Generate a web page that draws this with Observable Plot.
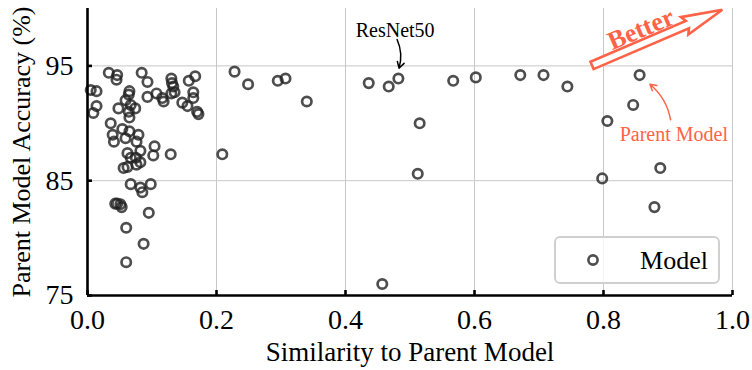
<!DOCTYPE html>
<html><head><meta charset="utf-8">
<script src="https://cdn.jsdelivr.net/npm/d3@7"></script>
<script src="https://cdn.jsdelivr.net/npm/@observablehq/plot@0.6"></script>
<style>body{margin:0;background:#fff}</style>
</head><body><div id="chart"></div>
<script>
// ---- data ----
const similarity = [
  0.467,0.482,0.567,0.602,0.671,0.707,0.744,0.856,0.846,0.806,0.515,0.512,0.798,0.888,0.879,0.457,0.436,
  0.228,0.249,0.295,0.307,0.340,0.209,
  0.033,0.046,0.045,0.084,0.093,0.130,0.131,0.133,0.157,0.167,
  0.005,0.014,0.065,0.064,0.059,0.093,0.107,0.116,0.118,0.130,0.135,0.164,0.164,0.147,0.155,0.170,0.172,
  0.014,0.009,0.048,0.067,0.074,0.064,0.065,
  0.036,0.039,0.041,0.054,0.065,0.059,0.079,0.076,0.082,0.104,0.102,0.129,0.062,0.067,0.075,0.082,0.076,0.056,0.062,
  0.067,0.082,0.085,0.098,0.043,0.046,0.051,0.053,0.095,0.060,0.087,0.060
];
const accuracy = [
  93.2,93.9,93.7,94.0,94.2,94.2,93.2,94.2,91.6,90.2,90.0,85.6,85.2,86.1,82.7,76.0,93.5,
  94.5,93.4,93.7,93.9,91.9,87.3,
  94.4,94.2,93.8,94.4,93.6,93.9,93.5,93.2,93.7,94.1,
  92.9,92.8,92.8,92.5,92.0,92.3,92.6,92.2,91.9,92.6,92.7,92.7,92.2,91.8,91.5,91.0,90.8,
  91.5,90.9,91.3,91.6,91.3,91.0,90.5,
  90.0,89.0,88.4,89.5,89.3,88.7,89.0,88.4,87.6,88.0,87.2,87.3,87.4,87.0,87.0,86.6,86.4,86.1,86.2,
  84.7,84.4,84.0,84.7,83.0,83.0,82.95,82.7,82.2,80.9,79.5,77.9
];
const xTicks = [0.0, 0.2, 0.4, 0.6, 0.8, 1.0];
const yTicks = [75, 85, 95];
const xLabel = "Similarity to Parent Model";
const yLabel = "Parent Model Accuracy (%)";
const legendLabel = "Model";
const resnetLabel = "ResNet50";
const parentLabel = "Parent Model";
const betterLabel = "Better";

const data = similarity.map((s, i) => ({s, a: accuracy[i]}));

// ---- layout ----
const W = 752, H = 370, mL = 87, mR = 20, mT = 8, mB = 75;
const fW = W - mL - mR, fH = H - mT - mB;
const serif = "'Liberation Serif','DejaVu Serif',serif";
const coral = "#ff6347";

const plot = Plot.plot({
  width: W, height: H,
  marginLeft: mL, marginRight: mR, marginTop: mT, marginBottom: mB,
  style: {fontFamily: serif, background: "#fff", color: "#000", overflow: "visible"},
  x: {domain: [0, 1], label: null},
  y: {domain: [75, 100], label: null},
  marks: [
    Plot.gridX(xTicks.slice(1), {stroke: "#c8c8c8", strokeOpacity: 1, strokeWidth: 1}),
    Plot.gridY(yTicks.slice(1), {stroke: "#c8c8c8", strokeOpacity: 1, strokeWidth: 1}),
    Plot.dot(data, {x: "s", y: "a", r: 4.7, stroke: "#222", strokeOpacity: 0.8, strokeWidth: 2.7, fill: "none"}),
    Plot.ruleX([0], {stroke: "#000", strokeWidth: 2.6}),
    Plot.ruleY([75], {stroke: "#000", strokeWidth: 2.6}),
    Plot.tickX(xTicks, {x: d => d, stroke: "#000", strokeWidth: 2.6, insetTop: fH - 5}),
    Plot.tickY(yTicks, {y: d => d, stroke: "#000", strokeWidth: 2.6, insetRight: fW - 5}),
    Plot.axisX(xTicks, {tickSize: 0, tickPadding: 14, tickFormat: d3.format(".1f"), fontSize: 28, label: null}),
    Plot.axisY(yTicks, {tickSize: 0, tickPadding: 14, fontSize: 28, label: null}),
    Plot.text([xLabel], {text: d => d, frameAnchor: "bottom", textAnchor: "middle", lineAnchor: "middle", dy: 57, fontSize: 27}),
    Plot.text([yLabel], {text: d => d, frameAnchor: "left", textAnchor: "middle", lineAnchor: "middle", rotate: -90, dx: -66, fontSize: 26}),
    // annotations
    Plot.text([resnetLabel], {text: d => d, x: 0.477, y: 98.1, fontSize: 20}),
    Plot.arrow([{x1: 0.480, y1: 97.3, x2: 0.483, y2: 94.8}], {x1: "x1", y1: "y1", x2: "x2", y2: "y2", bend: 20, stroke: "#000", strokeWidth: 1.5, headLength: 7}),
    Plot.text([parentLabel], {text: d => d, x: 0.909, y: 89.0, fontSize: 20, fill: coral}),
    Plot.arrow([{x1: 0.904, y1: 90.3, x2: 0.872, y2: 93.4}], {x1: "x1", y1: "y1", x2: "x2", y2: "y2", bend: -20, stroke: coral, strokeWidth: 1.5, headLength: 7}),
    Plot.text([betterLabel], {text: d => d, x: 0.858, y: 98.2, rotate: -23, fontSize: 26, fontWeight: "bold", fill: coral})
  ]
});

// ---- hollow "Better" arrow and legend, placed through the plot's scales ----
const sx = plot.scale("x"), sy = plot.scale("y");
const svg = d3.select(plot);
const tail = [sx.apply(0.783), sy.apply(95.0)];
const tip = [sx.apply(0.985), sy.apply(99.85)];
const dxA = tip[0] - tail[0], dyA = tip[1] - tail[1], L = Math.hypot(dxA, dyA);
const u = [dxA / L, dyA / L], n = [-u[1], u[0]];
const hw = 4, hh = 9.5, hl = 38;
const P = (t, w) => [tail[0] + u[0] * t + n[0] * w, tail[1] + u[1] * t + n[1] * w];
const poly = [P(0, -hw), P(L - hl, -hw), P(L - hl - 3, -hh), P(L, 0), P(L - hl - 3, hh), P(L - hl, hw), P(0, hw)];
svg.append("path").attr("d", "M" + poly.map(p => p.join(",")).join("L") + "Z")
  .attr("fill", "#fff").attr("stroke", coral).attr("stroke-width", 2.6).attr("stroke-linejoin", "miter");

// legend box in frame-relative position (lower right)
const lg = svg.append("g");
const bx = mL + fW - 177, by = mT + fH - 58, bw = 164, bh = 46;
lg.append("rect").attr("x", bx).attr("y", by).attr("width", bw).attr("height", bh).attr("rx", 5)
  .attr("fill", "#fff").attr("fill-opacity", 0.8).attr("stroke", "#d0d0d0").attr("stroke-width", 2);
lg.append("circle").attr("cx", bx + 38).attr("cy", by + bh / 2).attr("r", 4.6)
  .attr("fill", "none").attr("stroke", "#222").attr("stroke-opacity", 0.8).attr("stroke-width", 2.6);
lg.append("text").attr("x", bx + bw - 11).attr("y", by + bh / 2).attr("dy", "0.35em")
  .attr("text-anchor", "end").attr("font-size", 26).attr("font-family", serif).text(legendLabel);

document.getElementById("chart").appendChild(plot);
</script>
</body></html>
